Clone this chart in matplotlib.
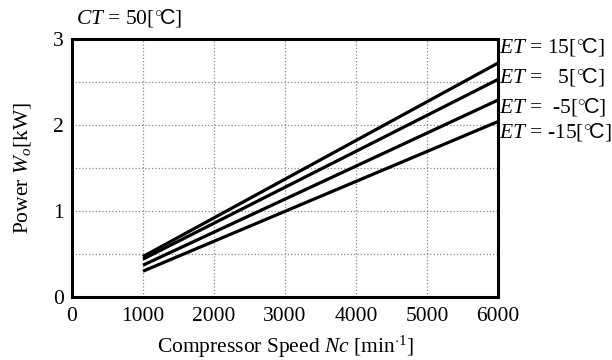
import matplotlib.pyplot as plt
import numpy as np

plt.rcParams['font.family'] = ['Liberation Serif', 'DejaVu Sans']
plt.rcParams['mathtext.fontset'] = 'custom'
plt.rcParams['mathtext.rm'] = 'Liberation Serif'
plt.rcParams['mathtext.it'] = 'Liberation Serif:italic'
plt.rcParams['mathtext.sf'] = 'Liberation Sans'

# compressor speed endpoints [min-1] and power [kW] for each ET
speed = [1000, 6000]
power_et15 = [0.47, 2.72]
power_et5 = [0.44, 2.53]
power_etm5 = [0.37, 2.29]
power_etm15 = [0.30, 2.04]

degc = r"[$^{\circ}\!\mathsf{C}$]"
et_labels = [r"$ET$ = 15" + degc, r"$ET$ =   5" + degc,
             r"$ET$ =  -5" + degc, r"$ET$ = -15" + degc]
label_y = [2.91, 2.56, 2.21, 1.92]

fig = plt.figure(figsize=(6.12, 3.6), dpi=100)
ax = fig.add_axes([0.1176, 0.175, 0.6961, 0.7167])

for p in (power_et15, power_et5, power_etm5, power_etm15):
    ax.plot(speed, p, color='black', lw=2.3, solid_capstyle='butt')

ax.set_xlim(0, 6000)
ax.set_ylim(0, 3)
ax.set_xticks(np.arange(0, 6001, 1000))
ax.set_yticks([0, 1, 2, 3])
ax.set_yticks([0.5, 1.5, 2.5], minor=True)
ax.tick_params(axis='both', which='both', length=0, labelsize=15.5, pad=6)
ax.tick_params(axis='x', pad=7)
ax.grid(True, which='both', color='#888888', linestyle=':', linewidth=0.9)

for s in ax.spines.values():
    s.set_linewidth(2.2)

ax.set_xlabel(r"Compressor Speed $Nc$ [min$^{\cdot 1}$]", fontsize=15.5, labelpad=6)
ax.set_ylabel(r"Power $W_o$[kW]", fontsize=15.5, labelpad=14)

ax.text(0.01, 1.08, r"$CT$ = 50" + degc, transform=ax.transAxes, fontsize=15.5,
        ha='left', va='center')

for lab, y in zip(et_labels, label_y):
    ax.text(6020, y, lab, fontsize=15.5, ha='left', va='center', clip_on=False)

fig.savefig('out.png', dpi=100)
